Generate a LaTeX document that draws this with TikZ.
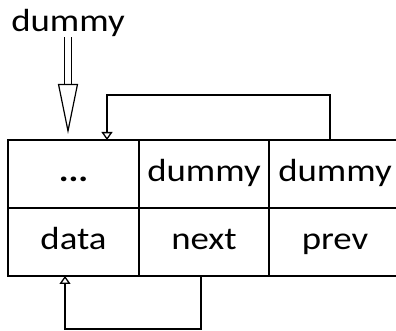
\documentclass[tikz,border=0pt]{standalone}
\usepackage{fontspec}
\setmainfont{Carlito}[FakeStretch=1.15]
\usetikzlibrary{positioning,arrows.meta}

\begin{document}
\begin{tikzpicture}[x=1pt,y=1pt,
  cell/.style={rectangle,draw,line width=1.3pt,minimum width=131pt,minimum height=68pt,
    inner sep=0pt,outer sep=0pt,font=\fontsize{32}{38}\selectfont,text height=22pt,text depth=6pt},
  lbl/.style={inner sep=0pt,font=\fontsize{32}{38}\selectfont},
  link/.style={line width=1.3pt,-{Triangle[open,length=8pt,width=11pt]}},
  hollow/.style={double,double distance=6pt,line width=1.2pt,-{Triangle[open,length=50pt,width=20pt]}}]

\path[use as bounding box] (0,0) rectangle (396,331);

% Row 0 (top)
\node[cell] (dots) at (73.5,157) {\textbf{...}};
\node[cell,minimum width=130pt,right=0pt of dots] (dnext) {dummy};
\node[cell,minimum width=132pt,right=0pt of dnext] (dprev) {dummy};

% Row 1
\node[cell,below=0pt of dots] (data) {data};
\node[cell,minimum width=130pt,below=0pt of dnext] (next) {next};
\node[cell,minimum width=132pt,below=0pt of dprev] (prev) {prev};

% Pointer
\node[lbl,anchor=base] (head) at (68,299) {dummy};
\draw[hollow,shorten >=6pt] (head.south) -- (head.south |- dots.north);

% Links
\draw[link] ([xshift=-5pt]dprev.north) -- ++(0,45) -| ([xshift=33.5pt]dots.north);
\draw[link] ([xshift=-3pt]next.south) -- ++(0,-53) -| ([xshift=-8.5pt]data.south);
\end{tikzpicture}
\end{document}
